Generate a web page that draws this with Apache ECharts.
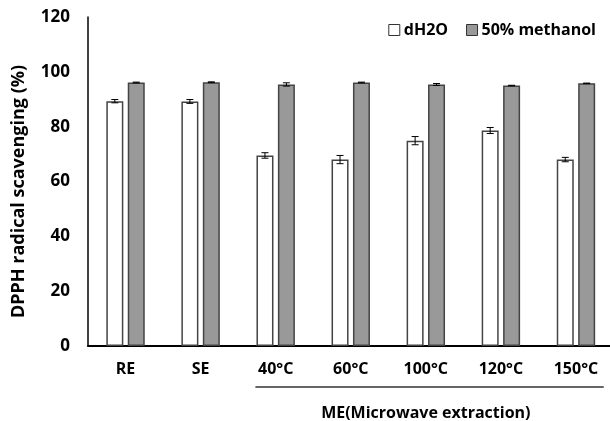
<!DOCTYPE html>
<html>
<head>
<meta charset="utf-8">
<script src="https://cdn.jsdelivr.net/npm/echarts@6/dist/echarts.min.js"></script>
<style>
html,body{margin:0;padding:0;background:#fff;}
#chart{width:610px;height:421px;}
</style>
</head>
<body>
<div id="chart"></div>
<script>
// ---- data ----
var categories = ['RE', 'SE', '40°C', '60°C', '100°C', '120°C', '150°C'];
var seriesNames = ['dH2O', '50% methanol'];
var waterValues = [89.3, 89.2, 69.5, 68.0, 74.9, 78.6, 68.0];
var waterErrors = [0.6, 0.7, 1.0, 1.5, 1.5, 1.1, 0.8];
var methanolValues = [96.1, 96.2, 95.4, 96.1, 95.4, 95.0, 95.8];
var methanolErrors = [0.15, 0.15, 0.6, 0.15, 0.35, 0.1, 0.1];
var yTicks = [0, 20, 40, 60, 80, 100, 120];
var groupLabel = 'ME(Microwave extraction)';
var groupFrom = 2, groupTo = 6;

// ---- style ----
var FONT = '"Open Sans", "Noto Sans", sans-serif';
var BAR_W = 17;
var GAP_RATIO = 0.26;
var OFF = (BAR_W + BAR_W * GAP_RATIO) / 2;

function errData(vals, errs) {
  return vals.map(function (v, i) { return [i, v, errs[i]]; });
}
function errRender(sign) {
  return function (params, api) {
    var x = api.value(0), v = api.value(1), e = api.value(2);
    var top = api.coord([x, v + e]);
    var bot = api.coord([x, v - e]);
    var cx = top[0] + sign * OFF;
    var hw = 3.5;
    var st = { stroke: '#000', lineWidth: 1 };
    return {
      type: 'group',
      children: [
        { type: 'line', shape: { x1: cx, y1: top[1], x2: cx, y2: bot[1] }, style: st },
        { type: 'line', shape: { x1: cx - hw, y1: top[1], x2: cx + hw, y2: top[1] }, style: st },
        { type: 'line', shape: { x1: cx - hw, y1: bot[1], x2: cx + hw, y2: bot[1] }, style: st }
      ]
    };
  };
}

var chart = echarts.init(document.getElementById('chart'), null, { renderer: 'canvas' });
var option = {
  animation: false,
  backgroundColor: '#fff',
  textStyle: { fontFamily: FONT },
  grid: { left: 88, top: 17, width: 525.5, bottom: 75, containLabel: false, outerBoundsMode: 'none' },
  legend: {
    data: [
      { name: seriesNames[0], itemStyle: { color: '#fff', borderColor: '#333', borderWidth: 1 } },
      { name: seriesNames[1], itemStyle: { color: '#999', borderColor: '#333', borderWidth: 1 } }
    ],
    right: 9, top: 17,
    itemWidth: 11, itemHeight: 11, itemGap: 18,
    icon: 'rect',
    textStyle: { fontFamily: FONT, fontSize: 16, fontWeight: 'bold', color: '#000', padding: [0, 0, 0, -1] }
  },
  xAxis: {
    type: 'category',
    data: categories,
    axisLine: { lineStyle: { color: '#000', width: 2 } },
    axisTick: { show: false },
    axisLabel: { fontFamily: FONT, fontSize: 16, fontWeight: 'bold', color: '#000', margin: 15 }
  },
  yAxis: {
    type: 'value',
    min: 0, max: 120, interval: 20,
    name: 'DPPH radical scavenging (%)',
    nameLocation: 'middle',
    nameGap: 60,
    nameTextStyle: { fontFamily: FONT, fontSize: 18, fontWeight: 'bold', color: '#000', padding: [0, 20, 0, 0] },
    axisLine: { show: true, lineStyle: { color: '#000', width: 1.5 } },
    axisTick: { show: false },
    splitLine: { show: false },
    axisLabel: {
      fontFamily: FONT, fontSize: 17, fontWeight: 'bold', color: '#000', margin: 18,
      formatter: function (v) { return yTicks.indexOf(v) >= 0 ? String(v) : ''; }
    }
  },
  series: [
    {
      name: seriesNames[0], type: 'bar', data: waterValues,
      barWidth: BAR_W, barGap: (GAP_RATIO * 100) + '%',
      itemStyle: { color: '#fff', borderColor: '#444', borderWidth: 1.5 }
    },
    {
      name: seriesNames[1], type: 'bar', data: methanolValues,
      barWidth: BAR_W, barGap: (GAP_RATIO * 100) + '%',
      itemStyle: { color: '#999', borderColor: '#444', borderWidth: 1.5 }
    },
    {
      type: 'custom', name: 'errW', data: errData(waterValues, waterErrors),
      renderItem: errRender(-1), z: 10, silent: true
    },
    {
      type: 'custom', name: 'errM', data: errData(methanolValues, methanolErrors),
      renderItem: errRender(1), z: 10, silent: true
    }
  ]
};
chart.setOption(option);

// group annotation under the category labels
var p0 = chart.convertToPixel({ xAxisIndex: 0 }, groupFrom);
var p1 = chart.convertToPixel({ xAxisIndex: 0 }, groupTo);
var band = (p1 - p0) / (groupTo - groupFrom);
var baseY = chart.convertToPixel({ yAxisIndex: 0 }, 0);
chart.setOption({
  graphic: [
    {
      type: 'line',
      shape: { x1: p0 - band * 0.27, y1: baseY + 41, x2: p1 + band * 0.37, y2: baseY + 41 },
      style: { stroke: '#333', lineWidth: 1.5 }
    },
    {
      type: 'text',
      x: (p0 + p1) / 2, y: baseY + 67,
      style: {
        text: groupLabel, fontFamily: FONT, fontSize: 16, fontWeight: 'bold',
        fill: '#000', align: 'center', verticalAlign: 'middle'
      }
    }
  ]
});
</script>
</body>
</html>
